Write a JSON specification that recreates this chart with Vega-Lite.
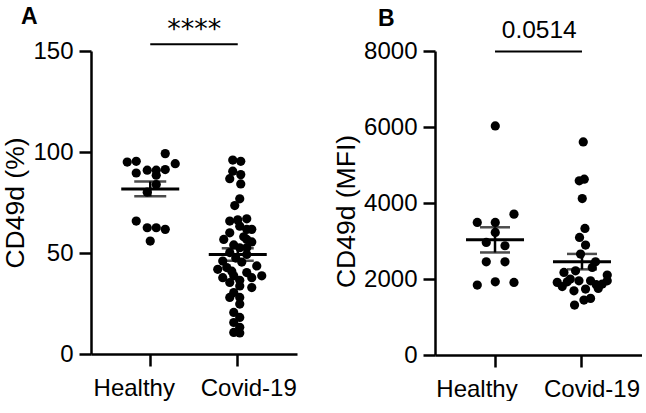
{
  "$schema": "https://vega.github.io/schema/vega-lite/v6.json",
  "background": "white",
  "padding": {"left": 2, "top": 5, "right": 0, "bottom": 0},
  "spacing": 36,
  "datasets": {
    "pct": [
      {"group": "Healthy", "value": 95.0, "jitter": -23},
      {"group": "Healthy", "value": 95.4, "jitter": -14},
      {"group": "Healthy", "value": 99.2, "jitter": 15},
      {"group": "Healthy", "value": 94.2, "jitter": 25},
      {"group": "Healthy", "value": 89.6, "jitter": -14},
      {"group": "Healthy", "value": 91.0, "jitter": -3},
      {"group": "Healthy", "value": 91.0, "jitter": 6},
      {"group": "Healthy", "value": 91.3, "jitter": 15},
      {"group": "Healthy", "value": 88.5, "jitter": 6},
      {"group": "Healthy", "value": 83.9, "jitter": 6},
      {"group": "Healthy", "value": 80.1, "jitter": -3},
      {"group": "Healthy", "value": 65.8, "jitter": -14},
      {"group": "Healthy", "value": 62.5, "jitter": -3},
      {"group": "Healthy", "value": 62.5, "jitter": 6},
      {"group": "Healthy", "value": 61.7, "jitter": 15},
      {"group": "Healthy", "value": 55.9, "jitter": 0},
      {"group": "Covid-19", "value": 96.0, "jitter": -5},
      {"group": "Covid-19", "value": 95.4, "jitter": 3},
      {"group": "Covid-19", "value": 90.5, "jitter": -5},
      {"group": "Covid-19", "value": 88.8, "jitter": 3},
      {"group": "Covid-19", "value": 86.8, "jitter": -8},
      {"group": "Covid-19", "value": 84.2, "jitter": 3},
      {"group": "Covid-19", "value": 76.8, "jitter": 2},
      {"group": "Covid-19", "value": 73.5, "jitter": -3},
      {"group": "Covid-19", "value": 66.9, "jitter": 9},
      {"group": "Covid-19", "value": 65.8, "jitter": -8},
      {"group": "Covid-19", "value": 66.4, "jitter": 0},
      {"group": "Covid-19", "value": 63.3, "jitter": 2},
      {"group": "Covid-19", "value": 61.7, "jitter": 9},
      {"group": "Covid-19", "value": 61.7, "jitter": 14},
      {"group": "Covid-19", "value": 60.0, "jitter": -8},
      {"group": "Covid-19", "value": 58.0, "jitter": 6},
      {"group": "Covid-19", "value": 56.7, "jitter": -14},
      {"group": "Covid-19", "value": 56.7, "jitter": 9},
      {"group": "Covid-19", "value": 55.5, "jitter": 14},
      {"group": "Covid-19", "value": 54.0, "jitter": -4},
      {"group": "Covid-19", "value": 52.6, "jitter": 2},
      {"group": "Covid-19", "value": 52.6, "jitter": 9},
      {"group": "Covid-19", "value": 50.2, "jitter": -8},
      {"group": "Covid-19", "value": 49.3, "jitter": 9},
      {"group": "Covid-19", "value": 47.5, "jitter": -2},
      {"group": "Covid-19", "value": 46.0, "jitter": -15},
      {"group": "Covid-19", "value": 45.5, "jitter": 4},
      {"group": "Covid-19", "value": 43.6, "jitter": 19},
      {"group": "Covid-19", "value": 42.8, "jitter": -11},
      {"group": "Covid-19", "value": 41.9, "jitter": -20},
      {"group": "Covid-19", "value": 41.0, "jitter": -6},
      {"group": "Covid-19", "value": 40.3, "jitter": 9},
      {"group": "Covid-19", "value": 38.7, "jitter": 24},
      {"group": "Covid-19", "value": 38.7, "jitter": -4},
      {"group": "Covid-19", "value": 37.8, "jitter": -15},
      {"group": "Covid-19", "value": 37.8, "jitter": 14},
      {"group": "Covid-19", "value": 36.5, "jitter": 2},
      {"group": "Covid-19", "value": 35.4, "jitter": -8},
      {"group": "Covid-19", "value": 33.7, "jitter": 2},
      {"group": "Covid-19", "value": 32.9, "jitter": 14},
      {"group": "Covid-19", "value": 30.4, "jitter": -4},
      {"group": "Covid-19", "value": 28.0, "jitter": -8},
      {"group": "Covid-19", "value": 28.0, "jitter": 2},
      {"group": "Covid-19", "value": 24.7, "jitter": 2},
      {"group": "Covid-19", "value": 20.6, "jitter": -4},
      {"group": "Covid-19", "value": 18.1, "jitter": 2},
      {"group": "Covid-19", "value": 15.6, "jitter": -4},
      {"group": "Covid-19", "value": 13.2, "jitter": 2},
      {"group": "Covid-19", "value": 10.7, "jitter": -4},
      {"group": "Covid-19", "value": 10.4, "jitter": 2}
    ],
    "mfi": [
      {"group": "Healthy", "value": 6028, "jitter": 0},
      {"group": "Healthy", "value": 3707, "jitter": 18.7},
      {"group": "Healthy", "value": 3488, "jitter": -18},
      {"group": "Healthy", "value": 3488, "jitter": 0},
      {"group": "Healthy", "value": 3225, "jitter": 0},
      {"group": "Healthy", "value": 2962, "jitter": -9},
      {"group": "Healthy", "value": 2875, "jitter": 9.7},
      {"group": "Healthy", "value": 2453, "jitter": -9},
      {"group": "Healthy", "value": 2453, "jitter": 9.7},
      {"group": "Healthy", "value": 1840, "jitter": -18},
      {"group": "Healthy", "value": 1927, "jitter": 0},
      {"group": "Healthy", "value": 1910, "jitter": 18.7},
      {"group": "Covid-19", "value": 5608, "jitter": 1},
      {"group": "Covid-19", "value": 4583, "jitter": -3},
      {"group": "Covid-19", "value": 4626, "jitter": 2},
      {"group": "Covid-19", "value": 4118, "jitter": 0},
      {"group": "Covid-19", "value": 3331, "jitter": 2.7},
      {"group": "Covid-19", "value": 3094, "jitter": -2.7},
      {"group": "Covid-19", "value": 2892, "jitter": 3.3},
      {"group": "Covid-19", "value": 2655, "jitter": -1.7},
      {"group": "Covid-19", "value": 2453, "jitter": 13.3},
      {"group": "Covid-19", "value": 2305, "jitter": 10},
      {"group": "Covid-19", "value": 2174, "jitter": -18.3},
      {"group": "Covid-19", "value": 2216, "jitter": -6.7},
      {"group": "Covid-19", "value": 2103, "jitter": 25},
      {"group": "Covid-19", "value": 1911, "jitter": -25},
      {"group": "Covid-19", "value": 1927, "jitter": -15},
      {"group": "Covid-19", "value": 1953, "jitter": -3.3},
      {"group": "Covid-19", "value": 1953, "jitter": 8.3},
      {"group": "Covid-19", "value": 1866, "jitter": 20},
      {"group": "Covid-19", "value": 1953, "jitter": 25},
      {"group": "Covid-19", "value": 1735, "jitter": 3.3},
      {"group": "Covid-19", "value": 1690, "jitter": -8.3},
      {"group": "Covid-19", "value": 1490, "jitter": 8.3},
      {"group": "Covid-19", "value": 1446, "jitter": 1.7},
      {"group": "Covid-19", "value": 1314, "jitter": -7.7},
      {"group": "Covid-19", "value": 1800, "jitter": -20},
      {"group": "Covid-19", "value": 1850, "jitter": 14},
      {"group": "Covid-19", "value": 2000, "jitter": -12},
      {"group": "Covid-19", "value": 1750, "jitter": 16}
    ],
    "annA": [{"from": "Healthy", "to": "Covid-19", "level": 153.4, "label": "****"}],
    "annB": [{"from": "Healthy", "to": "Covid-19", "level": 7990, "label": "0.0514"}]
  },
  "hconcat": [
    {
      "width": 206,
      "height": 303,
      "title": {"text": "A", "dx": -70, "offset": -13, "frame": "group"},
      "layer": [
        {
          "data": {"name": "pct"},
          "mark": {"type": "circle", "size": 85, "opacity": 1, "color": "black"},
          "encoding": {
            "x": {"field": "group", "type": "nominal", "scale": {"type": "band", "domain": ["Healthy", "Covid-19"], "paddingInner": 0, "paddingOuter": 0.177},
                  "axis": {"title": null, "labelAngle": 0, "labelOffset": {"condition": {"test": "datum.value === 'Healthy'", "value": -16}, "value": 11}}},
            "xOffset": {"field": "jitter", "type": "quantitative", "scale": {"domain": [-30, 30], "range": [13.75, 73.75]}},
            "y": {"field": "value", "type": "quantitative", "scale": {"domain": [0, 150], "nice": false}, "title": "CD49d (%)", "axis": {"values": [0, 50, 100, 150]}}
          }
        },
        {
          "data": {"name": "pct"},
          "mark": {"type": "errorbar", "extent": "stderr", "color": "black", "thickness": 2.5, "ticks": {"size": 32}},
          "encoding": {
            "x": {"field": "group", "type": "nominal"},
            "y": {"field": "value", "type": "quantitative", "scale": {"domain": [0, 150], "nice": false}, "title": "CD49d (%)"}
          }
        },
        {
          "data": {"name": "pct"},
          "mark": {"type": "tick", "size": 58, "thickness": 3, "color": "black"},
          "encoding": {
            "x": {"field": "group", "type": "nominal"},
            "y": {"aggregate": "mean", "field": "value", "type": "quantitative", "scale": {"domain": [0, 150], "nice": false}, "title": "CD49d (%)"}
          }
        },
        {
          "data": {"name": "annA"},
          "mark": {"type": "rule", "strokeWidth": 2, "color": "black"},
          "encoding": {
            "x": {"field": "from", "type": "nominal", "bandPosition": 0.5},
            "x2": {"field": "to", "bandPosition": 0.5},
            "y": {"field": "level", "type": "quantitative", "scale": {"domain": [0, 150], "nice": false}, "title": "CD49d (%)"}
          }
        },
        {
          "data": {"name": "annA"},
          "mark": {"type": "text", "fontSize": 27, "color": "black", "baseline": "alphabetic", "align": "center", "font": "DejaVu Sans"},
          "encoding": {
            "x": {"field": "from", "type": "nominal"},
            "xOffset": {"datum": 44, "type": "quantitative", "scale": {"domain": [-30, 30], "range": [13.75, 73.75]}},
            "y": {"datum": 156.5, "type": "quantitative", "scale": {"domain": [0, 150], "nice": false}, "title": "CD49d (%)"},
            "text": {"field": "label"}
          }
        }
      ]
    },
    {
      "width": 207,
      "height": 304,
      "title": {"text": "B", "dx": -57, "offset": -13, "frame": "group"},
      "layer": [
        {
          "data": {"name": "mfi"},
          "mark": {"type": "circle", "size": 85, "opacity": 1, "color": "black"},
          "encoding": {
            "x": {"field": "group", "type": "nominal", "scale": {"type": "band", "domain": ["Healthy", "Covid-19"], "paddingInner": 0, "paddingOuter": 0.19},
                  "axis": {"title": null, "labelAngle": 0, "labelOffset": {"condition": {"test": "datum.value === 'Healthy'", "value": -18}, "value": 10}}},
            "xOffset": {"field": "jitter", "type": "quantitative", "scale": {"domain": [-30, 30], "range": [13.5, 73.5]}},
            "y": {"field": "value", "type": "quantitative", "scale": {"domain": [0, 8000], "nice": false}, "title": "CD49d (MFI)", "axis": {"values": [0, 2000, 4000, 6000, 8000], "format": "d", "titleY": 160}}
          }
        },
        {
          "data": {"name": "mfi"},
          "mark": {"type": "errorbar", "extent": "stderr", "color": "black", "thickness": 2.5, "ticks": {"size": 30}},
          "encoding": {
            "x": {"field": "group", "type": "nominal"},
            "y": {"field": "value", "type": "quantitative", "scale": {"domain": [0, 8000], "nice": false}, "title": "CD49d (MFI)"}
          }
        },
        {
          "data": {"name": "mfi"},
          "mark": {"type": "tick", "size": 58, "thickness": 3, "color": "black"},
          "encoding": {
            "x": {"field": "group", "type": "nominal"},
            "y": {"aggregate": "mean", "field": "value", "type": "quantitative", "scale": {"domain": [0, 8000], "nice": false}, "title": "CD49d (MFI)"}
          }
        },
        {
          "data": {"name": "annB"},
          "mark": {"type": "rule", "strokeWidth": 2, "color": "black"},
          "encoding": {
            "x": {"field": "from", "type": "nominal", "bandPosition": 0.5},
            "x2": {"field": "to", "bandPosition": 0.5},
            "y": {"field": "level", "type": "quantitative", "scale": {"domain": [0, 8000], "nice": false}, "title": "CD49d (MFI)"}
          }
        },
        {
          "data": {"name": "annB"},
          "mark": {"type": "text", "fontSize": 24.5, "color": "black", "baseline": "alphabetic", "align": "center", "font": "Liberation Sans"},
          "encoding": {
            "x": {"field": "from", "type": "nominal"},
            "xOffset": {"datum": 44, "type": "quantitative", "scale": {"domain": [-30, 30], "range": [13.5, 73.5]}},
            "y": {"datum": 8350, "type": "quantitative", "scale": {"domain": [0, 8000], "nice": false}, "title": "CD49d (MFI)"},
            "text": {"field": "label"}
          }
        }
      ]
    }
  ],
  "config": {
    "view": {"stroke": null},
    "font": "Liberation Sans",
    "axis": {
      "domainColor": "black", "domainWidth": 2.5, "tickColor": "black", "tickWidth": 2.5, "tickSize": 12,
      "labelColor": "black", "labelFontSize": 24, "labelFont": "Liberation Sans",
      "titleFont": "Liberation Sans", "titleFontSize": 26.5, "titleFontWeight": "normal", "titleColor": "black",
      "grid": false
    },
    "axisX": {"labelPadding": 10},
    "axisY": {"labelPadding": 6, "titlePadding": 3},
    "title": {"font": "Liberation Sans", "fontSize": 23, "fontWeight": "bold", "color": "black", "anchor": "start"}
  }
}
